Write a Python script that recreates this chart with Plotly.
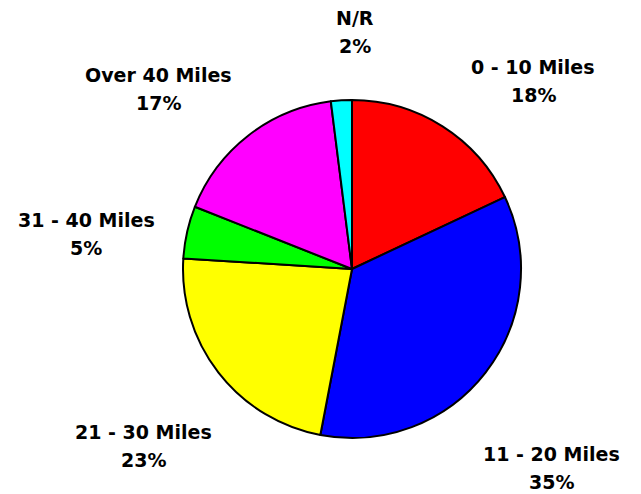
import plotly.graph_objects as go

labels = ["0 - 10 Miles", "11 - 20 Miles", "21 - 30 Miles", "31 - 40 Miles", "Over 40 Miles", "N/R"]
values = [18, 35, 23, 5, 17, 2]
colors = ["#FF0000", "#0000FF", "#FFFF00", "#00FF00", "#FF00FF", "#00FFFF"]

W, H = 641, 494
LINE_GAP = 28

# label placement (pixel centres in the screenshot), layout only
label_pos = [(533, 81), (551, 468), (143, 446), (86, 234), (158, 89), (355, 32)]

fig = go.Figure(go.Pie(
    labels=labels,
    values=values,
    sort=False,
    direction="clockwise",
    rotation=0,
    marker=dict(colors=colors, line=dict(color="black", width=2)),
    textinfo="none",
    domain=dict(x=[182 / W, 522 / W],
                y=[1 - 438 / H, 1 - 100 / H]),
    showlegend=False,
    hoverinfo="skip",
))

font = dict(family="DejaVu Sans", size=19, color="black", weight="bold")
for lab, val, (px, py) in zip(labels, values, label_pos):
    for txt, yy in ((lab, py - LINE_GAP / 2), (f"{val}%", py + LINE_GAP / 2)):
        fig.add_annotation(
            x=px / W, y=1 - yy / H,
            xref="paper", yref="paper",
            xanchor="center", yanchor="middle",
            text=txt, showarrow=False, font=font,
        )

fig.update_layout(
    width=W, height=H,
    margin=dict(l=0, r=0, t=0, b=0),
    paper_bgcolor="white",
    plot_bgcolor="white",
)
fig.write_html("out.html", config={"displayModeBar": False},
               post_script="document.body.style.margin='0';")
